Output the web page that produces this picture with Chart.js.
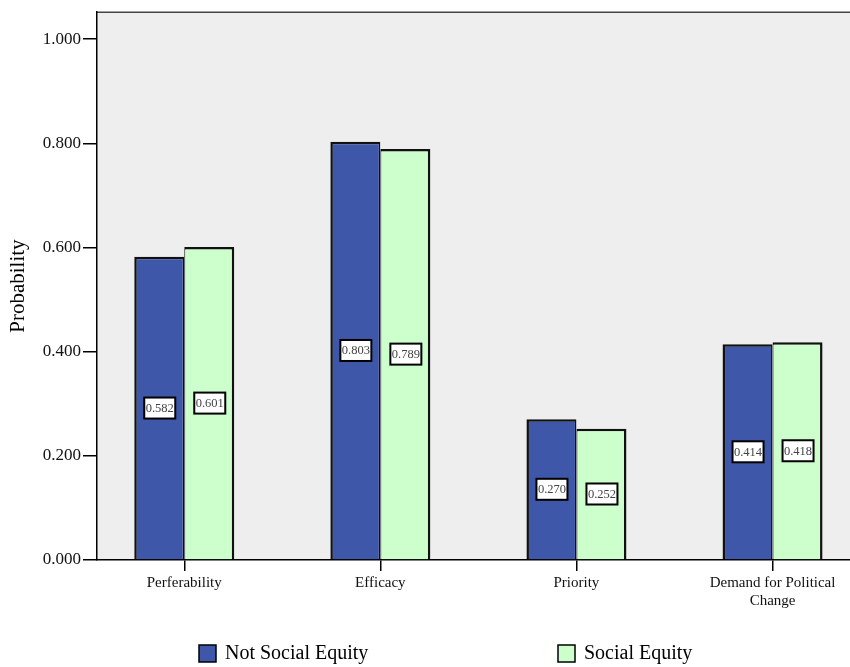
<!DOCTYPE html>
<html>
<head>
<meta charset="utf-8">
<script src="https://cdn.jsdelivr.net/npm/chart.js@4.4.0/dist/chart.umd.min.js"></script>
<style>
html,body{margin:0;padding:0;background:#fff;overflow:hidden;}
#wrap{width:850px;height:667px;position:relative;}
</style>
</head>
<body>
<div id="wrap"><canvas id="c" width="850" height="667"></canvas></div>
<script>
const categories = ['Perferability', 'Efficacy', 'Priority', ['Demand for Political', 'Change']];
const seriesNames = ['Not Social Equity', 'Social Equity'];
const notSocialEquity = [0.582, 0.803, 0.270, 0.414];
const socialEquity = [0.601, 0.789, 0.252, 0.418];
const yTicks = [0.0, 0.2, 0.4, 0.6, 0.8, 1.0];

const SERIF = "'Liberation Serif', 'Times New Roman', serif";
const BLUE = '#3E57A8';
const GREEN = '#CCFFCC';

const plotBg = {
  id: 'plotBg',
  beforeDraw(chart) {
    const {ctx, chartArea: a} = chart;
    ctx.save();
    ctx.fillStyle = '#EEEEEE';
    ctx.fillRect(a.left, a.top, a.right - a.left, a.bottom - a.top);
    ctx.strokeStyle = '#444';
    ctx.lineWidth = 1.5;
    ctx.beginPath();
    ctx.moveTo(a.left, a.top);
    ctx.lineTo(a.right, a.top);
    ctx.stroke();
    ctx.restore();
  }
};

const valueBoxes = {
  id: 'valueBoxes',
  afterDatasetsDraw(chart) {
    const ctx = chart.ctx;
    ctx.save();
    ctx.font = '12.5px ' + SERIF;
    ctx.textAlign = 'center';
    ctx.textBaseline = 'middle';
    chart.data.datasets.forEach((ds, di) => {
      const meta = chart.getDatasetMeta(di);
      meta.data.forEach((el, i) => {
        const v = ds.data[i].y;
        const txt = v.toFixed(3);
        const cx = el.x + 0.5;
        const cy = (el.y + el.base) / 2;
        const w = 31, h = 21;
        ctx.fillStyle = '#fff';
        ctx.fillRect(cx - w / 2, cy - h / 2, w, h);
        ctx.strokeStyle = '#000';
        ctx.lineWidth = 2;
        ctx.strokeRect(cx - w / 2, cy - h / 2, w, h);
        ctx.fillStyle = '#444';
        ctx.fillText(txt, cx, cy + 0.5);
      });
    });
    ctx.restore();
  }
};

const customLegend = {
  id: 'customLegend',
  afterDraw(chart) {
    const ctx = chart.ctx;
    const starts = [199, 558];
    ctx.save();
    ctx.font = '20px ' + SERIF;
    ctx.textBaseline = 'middle';
    ctx.textAlign = 'left';
    chart.data.datasets.forEach((ds, i) => {
      const x = starts[i], y = 645;
      ctx.fillStyle = ds.backgroundColor;
      ctx.fillRect(x, y, 17, 17);
      ctx.strokeStyle = '#000';
      ctx.lineWidth = 1.5;
      ctx.strokeRect(x, y, 17, 17);
      ctx.fillStyle = '#000';
      ctx.fillText(ds.label, x + 26, y + 9);
    });
    ctx.restore();
  }
};

const datasets = [
  {
    label: seriesNames[0],
    data: notSocialEquity.map((v, i) => ({x: i, y: v})),
    backgroundColor: BLUE,
    borderColor: '#111',
    borderWidth: {left: 2.5, top: 2.5, right: 1.5, bottom: 0},
    borderSkipped: 'start'
  },
  {
    label: seriesNames[1],
    data: socialEquity.map((v, i) => ({x: i, y: v})),
    backgroundColor: GREEN,
    borderColor: '#111',
    borderWidth: {left: 1, top: 2.5, right: 2.5, bottom: 0},
    borderSkipped: 'start'
  }
];

new Chart(document.getElementById('c'), {
  type: 'bar',
  data: {datasets},
  plugins: [plotBg, valueBoxes, customLegend],
  options: {
    responsive: false,
    animation: false,
    devicePixelRatio: 1,
    layout: {padding: {top: 10, right: 0, bottom: 0, left: 0}},
    datasets: {bar: {barPercentage: 1.0, categoryPercentage: 0.51, grouped: true}},
    plugins: {legend: {display: false}, tooltip: {enabled: false}},
    scales: {
      x: {
        type: 'linear',
        offset: false,
        min: -0.445,
        max: 3.395,
        afterBuildTicks(scale) { scale.ticks = categories.map((c, i) => ({value: i})); },
        afterFit(scale) { scale.height = 107; },
        grid: {offset: false, drawOnChartArea: false, drawTicks: true, tickLength: 11, color: '#000', lineWidth: 1.5},
        border: {display: true, color: '#000', width: 1.5},
        ticks: {
          autoSkip: false,
          maxRotation: 0,
          padding: 3,
          color: '#111',
          font: {family: SERIF, size: 15, lineHeight: 1.2},
          callback: (v, i) => categories[i]
        }
      },
      y: {
        min: 0,
        max: 1.0516,
        afterBuildTicks(scale) { scale.ticks = yTicks.map(v => ({value: v})); },
        afterFit(scale) { scale.width = 97; },
        grid: {drawOnChartArea: false, drawTicks: true, tickLength: 14, color: '#000', lineWidth: 1.5},
        border: {display: true, color: '#000', width: 1.5},
        title: {display: true, text: 'Probability', color: '#000', font: {family: SERIF, size: 21}, padding: {top: 6, bottom: 0}},
        ticks: {
          padding: 2,
          color: '#111',
          font: {family: SERIF, size: 17},
          callback: v => Number(v).toFixed(3)
        }
      }
    }
  }
});
</script>
</body>
</html>
